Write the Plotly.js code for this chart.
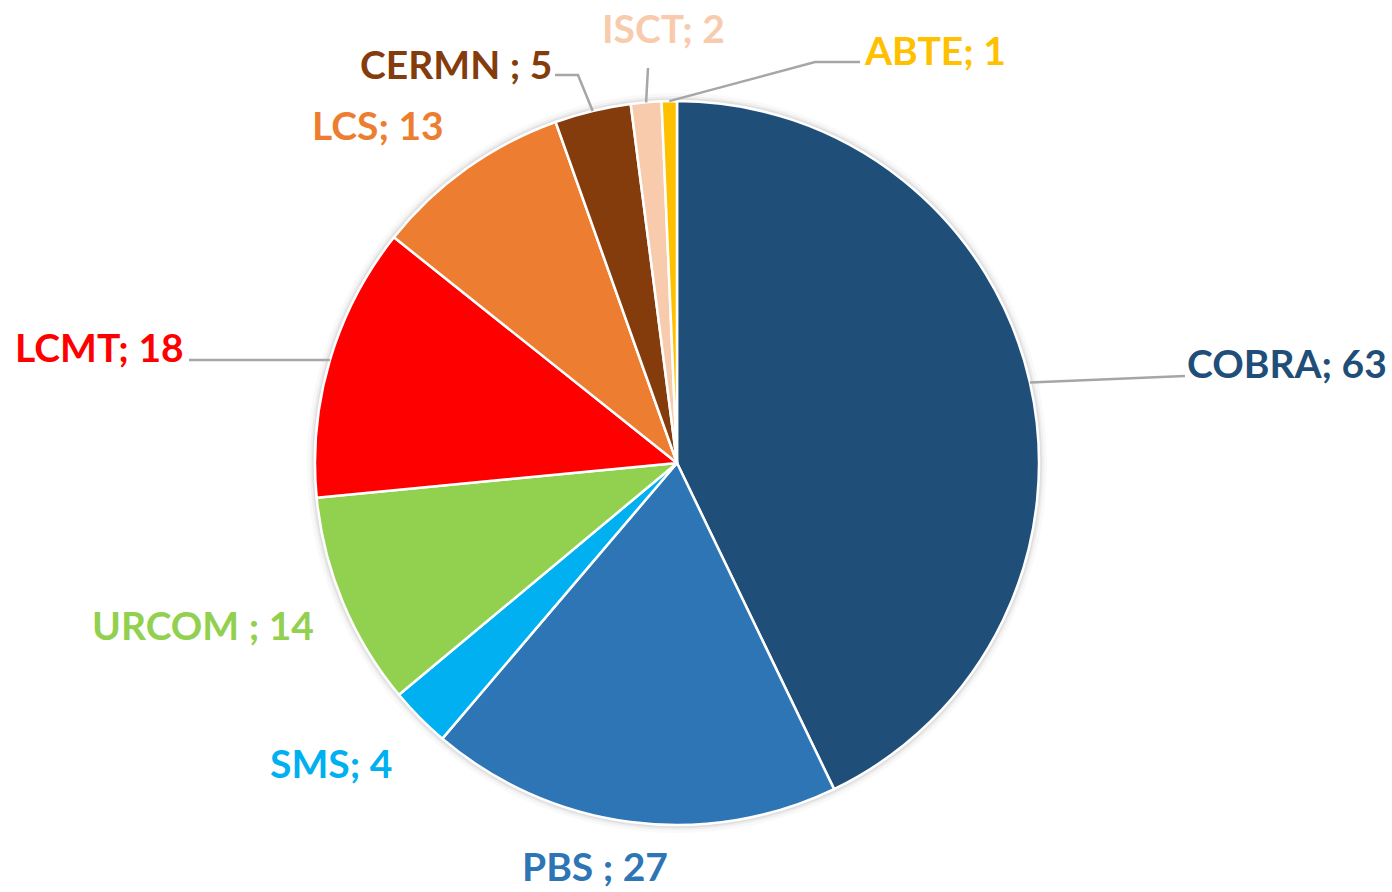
<!DOCTYPE html>
<html>
<head>
<meta charset="utf-8">
<script src="https://cdn.plot.ly/plotly-3.0.1.min.js"></script>
<style>html,body{margin:0;padding:0;background:#fff;}#chart{width:1392px;height:892px;}</style>
</head>
<body>
<div id="chart"></div>
<script>
// ---- data ----
const labels = ["COBRA", "PBS", "SMS", "URCOM", "LCMT", "LCS", "CERMN", "ISCT", "ABTE"];
const values = [63, 27, 4, 14, 18, 13, 5, 2, 1];
const labelTexts = ["COBRA; 63", "PBS ; 27", "SMS; 4", "URCOM ; 14", "LCMT; 18", "LCS; 13", "CERMN ; 5", "ISCT; 2", "ABTE; 1"];
const colors = ["#1F4E79", "#2E75B6", "#00B0F0", "#92D050", "#FF0000", "#ED7D31", "#843C0C", "#F8CBAD", "#FFC000"];

// ---- layout (pixels) ----
const W = 1392, H = 892;
const CX = 677, CY = 463, R = 362;
const labelPos = [[1287, 363], [595, 866], [331, 763], [203, 625], [99, 347], [378, 125], [456, 64], [663, 28], [935, 50]];
// leader line points after the slice edge point (null = no leader line)
const leaderPts = [[[1185, 376]], null, null, null, [[189, 360]], null, [[578, 75], [555, 75]], [[648, 68]], [[815, 62], [860, 62]]];

const px = x => x / W;
const py = y => 1 - y / H;

const total = values.reduce((a, b) => a + b, 0);
let cum = 0;
const shapes = [];
// soft shadow rings
[[8, 0.025], [5, 0.04], [3, 0.06]].forEach(([d, a]) => {
  shapes.push({type: "circle", xref: "paper", yref: "paper", layer: "below",
    x0: px(CX - R - d), x1: px(CX + R + d), y0: py(CY + R + d), y1: py(CY - R - d),
    fillcolor: "rgba(0,0,0," + a + ")", line: {width: 0}});
});
const annotations = [];
values.forEach((v, i) => {
  const mid = (cum + v / 2) / total * 2 * Math.PI;
  cum += v;
  const sx = CX + R * Math.sin(mid), sy = CY - R * Math.cos(mid);
  if (leaderPts[i]) {
    let path = "M" + px(sx) + "," + py(sy);
    leaderPts[i].forEach(p => { path += " L" + px(p[0]) + "," + py(p[1]); });
    shapes.push({type: "path", xref: "paper", yref: "paper", path: path, layer: "above",
      line: {color: "#A6A6A6", width: 2.5}});
  }
  annotations.push({xref: "paper", yref: "paper", x: px(labelPos[i][0]), y: py(labelPos[i][1]),
    xanchor: "center", yanchor: "middle", showarrow: false, text: "<b>" + labelTexts[i] + "</b>",
    font: {family: "Lato, 'Open Sans', sans-serif", size: 39, color: colors[i]}});
});

const trace = {
  type: "pie", labels: labels, values: values, sort: false, direction: "clockwise", rotation: 0,
  marker: {colors: colors, line: {color: "#FFFFFF", width: 2.5}},
  textinfo: "none", hoverinfo: "label+value",
  domain: {x: [px(CX - R), px(CX + R)], y: [py(CY + R), py(CY - R)]}
};

Plotly.newPlot("chart", [trace], {
  width: W, height: H, margin: {l: 0, r: 0, t: 0, b: 0},
  paper_bgcolor: "#FFFFFF", showlegend: false,
  shapes: shapes, annotations: annotations
}, {displayModeBar: false, staticPlot: true});
</script>
</body>
</html>
